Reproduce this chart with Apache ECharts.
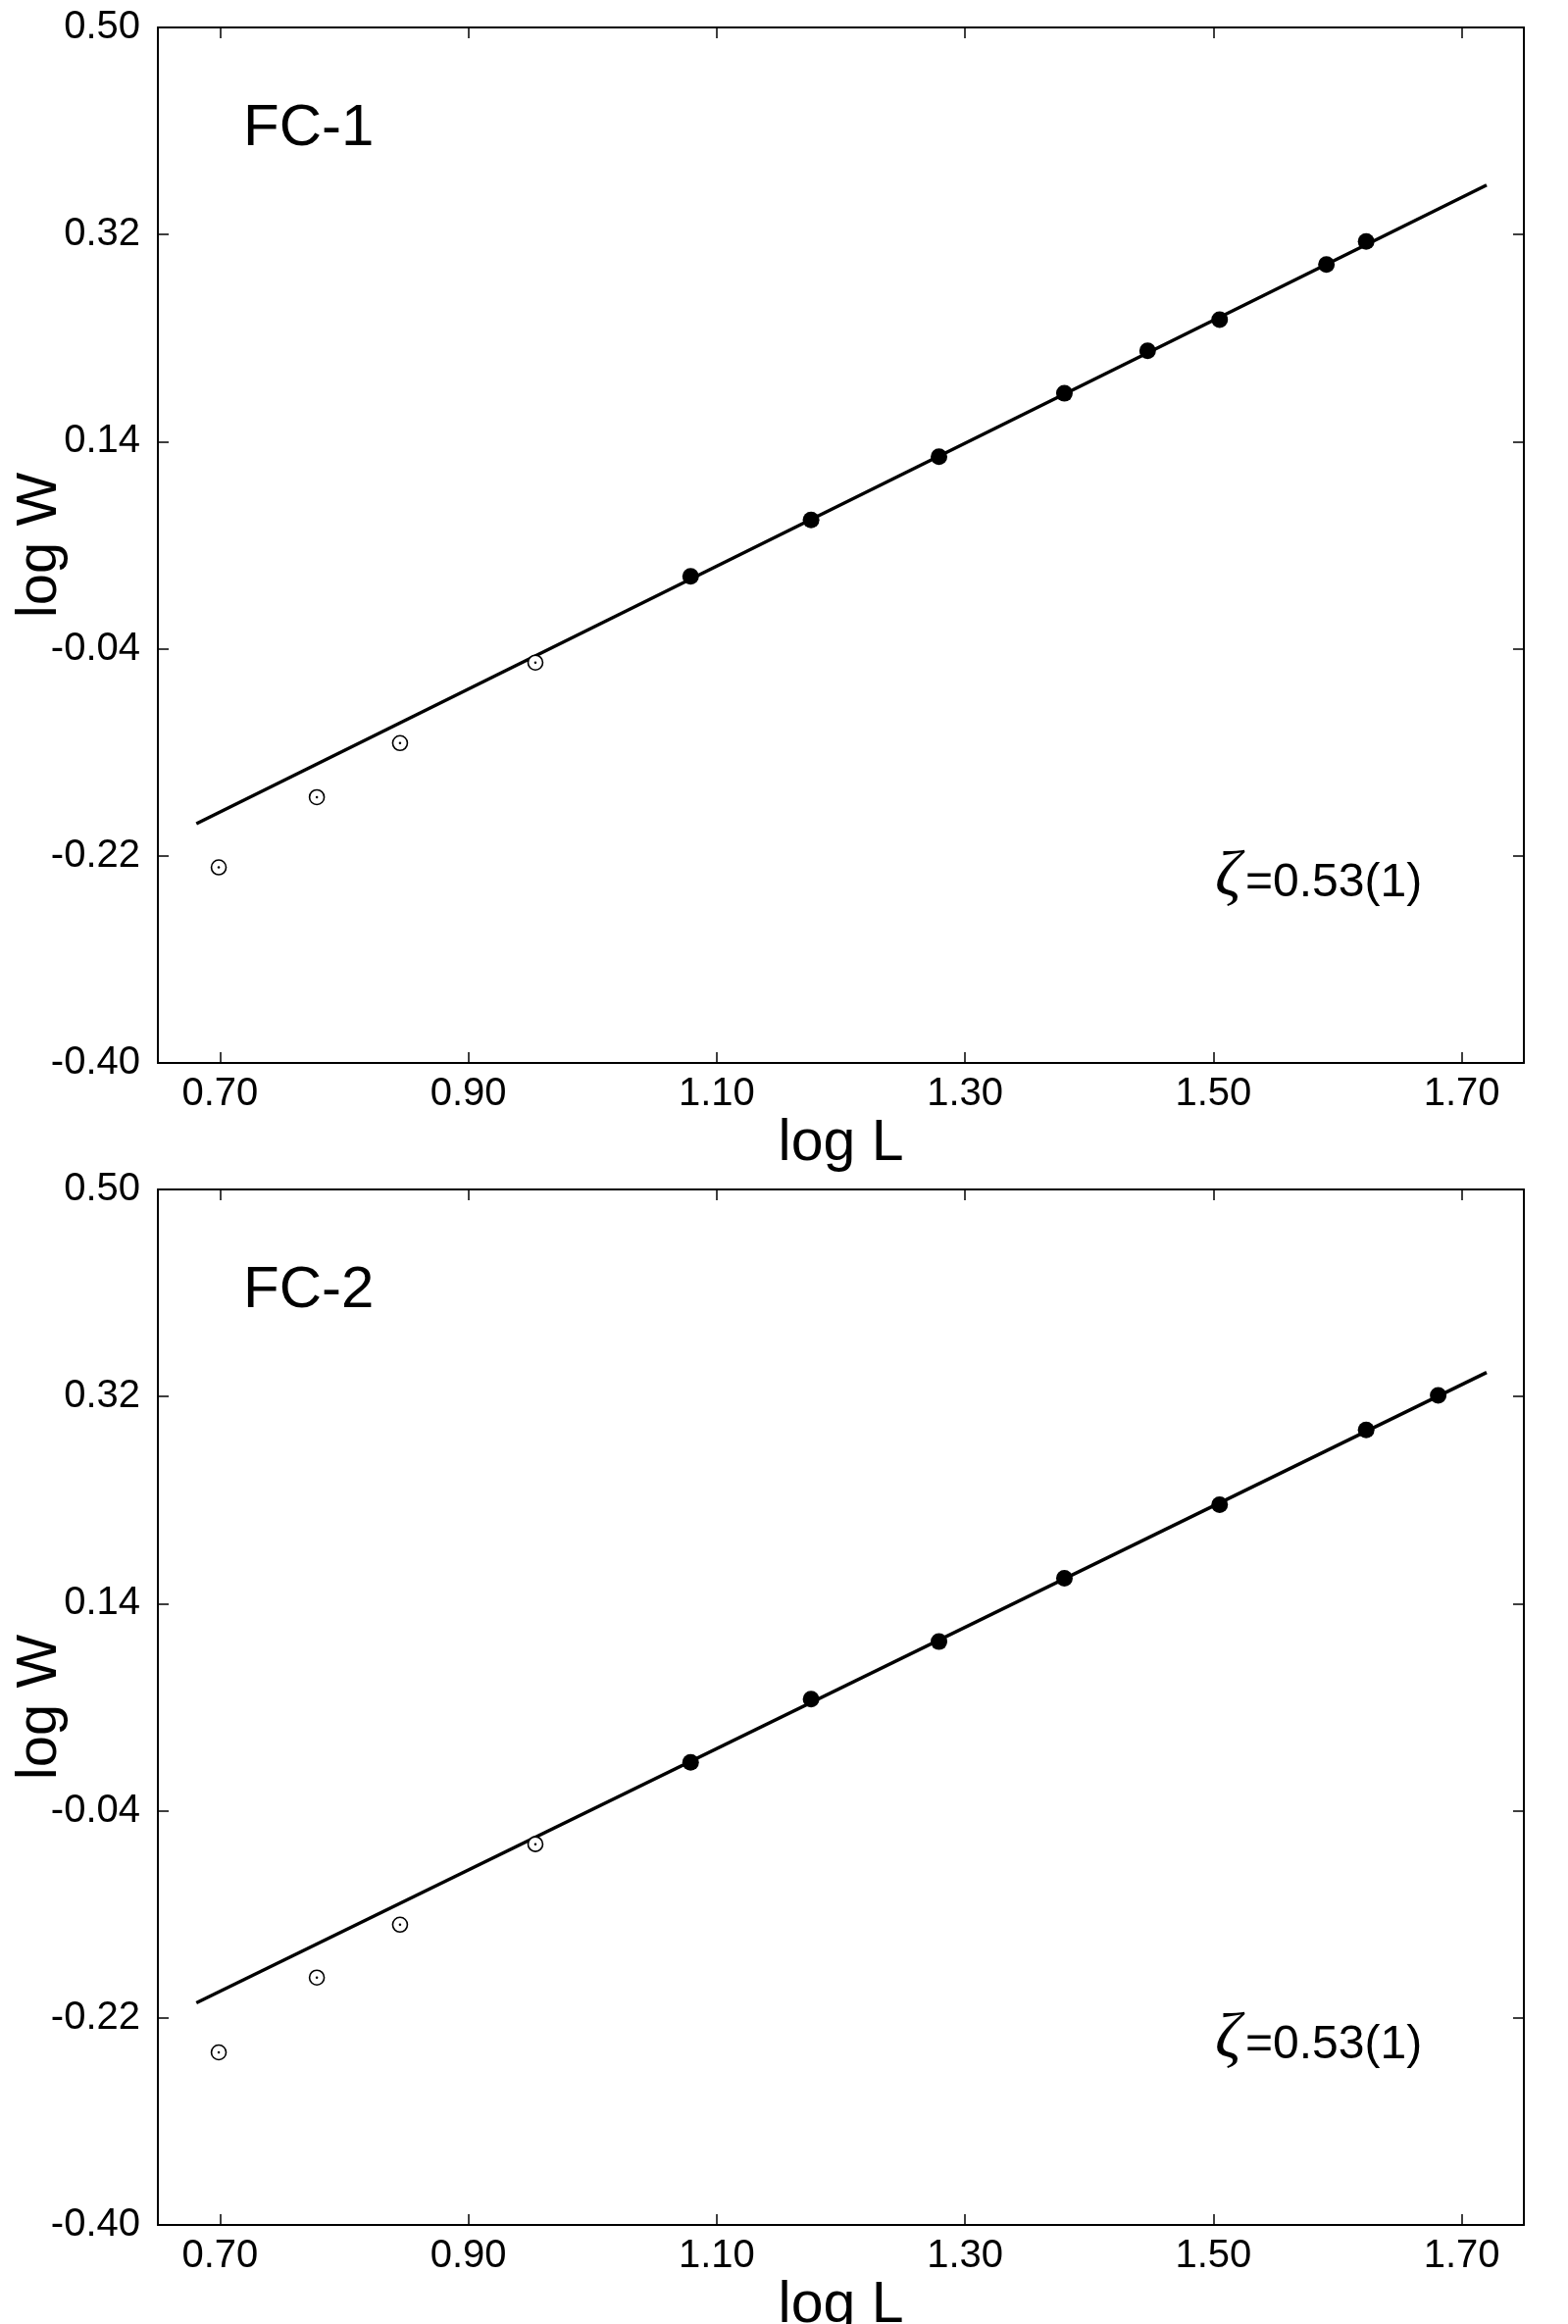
<!DOCTYPE html>
<html>
<head>
<meta charset="utf-8">
<title>log W vs log L</title>
<script src="https://cdn.jsdelivr.net/npm/echarts@6/dist/echarts.min.js"></script>
<style>
	html, body { margin: 0; padding: 0; background: #fff; }
	#main { width: 1599px; height: 2370px; }
</style>
</head>
<body>
<div id="main"></div>
<script>
// tick labels
var xTicks = [0.70, 0.90, 1.10, 1.30, 1.50, 1.70];
var yTicks = [-0.40, -0.22, -0.04, 0.14, 0.32, 0.50];

// open circles (small L), same L for both panels
var openLogL = [0.699, 0.778, 0.845, 0.954];

// FC-1
var fc1OpenLogW = [-0.230, -0.169, -0.122, -0.052];
var fc1FilledLogL = [1.079, 1.176, 1.279, 1.380, 1.447, 1.505, 1.591, 1.623];
var fc1FilledLogW = [0.023, 0.072, 0.127, 0.182, 0.219, 0.246, 0.294, 0.314];
var fc1FitLogL = [0.681, 1.720];
var fc1FitLogW = [-0.192, 0.363];

// FC-2
var fc2OpenLogW = [-0.250, -0.185, -0.139, -0.069];
var fc2FilledLogL = [1.079, 1.176, 1.279, 1.380, 1.505, 1.623, 1.681];
var fc2FilledLogW = [0.002, 0.057, 0.107, 0.162, 0.226, 0.291, 0.321];
var fc2FitLogL = [0.681, 1.720];
var fc2FitLogW = [-0.207, 0.341];

var FONT = '"Liberation Sans", Arial, Helvetica, sans-serif';

function pairs(xs, ys) {
	var out = [];
	for (var i = 0; i < xs.length; i++) {
		out.push([xs[i], ys[i]]);
	}
	return out;
}

var grids = [
	{ left: 161, top: 28, width: 1393, height: 1056 },
	{ left: 161, top: 1213, width: 1393, height: 1056 }
];

var xAxes = [], yAxes = [], series = [];

for (var g = 0; g < 2; g++) {
	grids[g].show = false;
	grids[g].outerBoundsMode = 'none';
	grids[g].containLabel = false;

	// bottom and top x axes
	xAxes.push({
		type: 'value', gridIndex: g, position: 'bottom',
		min: 0.65, max: 1.75,
		name: 'log L', nameLocation: 'middle', nameGap: 30,
		nameTextStyle: { fontFamily: FONT, fontSize: 59, color: '#000' },
		axisLine: { show: true, onZero: false, lineStyle: { color: '#000', width: 2 } },
		axisTick: { show: true, inside: true, length: 11, customValues: xTicks,
			lineStyle: { color: '#000', width: 1.5 } },
		axisLabel: { show: true, customValues: xTicks, margin: 12,
			fontFamily: FONT, fontSize: 40, color: '#000',
			formatter: function (v) { return v.toFixed(2); } },
		splitLine: { show: false }
	});
	xAxes.push({
		type: 'value', gridIndex: g, position: 'top',
		min: 0.65, max: 1.75,
		axisLine: { show: true, onZero: false, lineStyle: { color: '#000', width: 2 } },
		axisTick: { show: true, inside: true, length: 11, customValues: xTicks,
			lineStyle: { color: '#000', width: 1.5 } },
		axisLabel: { show: false },
		splitLine: { show: false }
	});

	// left and right y axes
	yAxes.push({
		type: 'value', gridIndex: g, position: 'left',
		min: -0.40, max: 0.50,
		name: 'log W', nameLocation: 'middle', nameGap: 91, nameRotate: 90,
		nameMoveOverlap: false,
		nameTextStyle: { fontFamily: FONT, fontSize: 58, color: '#000' },
		axisLine: { show: true, onZero: false, lineStyle: { color: '#000', width: 2 } },
		axisTick: { show: true, inside: true, length: 11, customValues: yTicks,
			lineStyle: { color: '#000', width: 1.5 } },
		axisLabel: { show: true, customValues: yTicks, margin: 18,
			fontFamily: FONT, fontSize: 40, color: '#000',
			formatter: function (v) { return v.toFixed(2); } },
		splitLine: { show: false }
	});
	yAxes.push({
		type: 'value', gridIndex: g, position: 'right',
		min: -0.40, max: 0.50,
		axisLine: { show: true, onZero: false, lineStyle: { color: '#000', width: 2 } },
		axisTick: { show: true, inside: true, length: 11, customValues: yTicks,
			lineStyle: { color: '#000', width: 1.5 } },
		axisLabel: { show: false },
		splitLine: { show: false }
	});
}

var panels = [
	{ open: pairs(openLogL, fc1OpenLogW), filled: pairs(fc1FilledLogL, fc1FilledLogW),
		fit: pairs(fc1FitLogL, fc1FitLogW) },
	{ open: pairs(openLogL, fc2OpenLogW), filled: pairs(fc2FilledLogL, fc2FilledLogW),
		fit: pairs(fc2FitLogL, fc2FitLogW) }
];

for (var p = 0; p < panels.length; p++) {
	var xi = p * 2, yi = p * 2;
	series.push({
		type: 'line', xAxisIndex: xi, yAxisIndex: yi,
		data: panels[p].fit, symbol: 'none', silent: true, z: 2,
		lineStyle: { color: '#000', width: 3.5, opacity: 1 }
	});
	series.push({
		type: 'scatter', xAxisIndex: xi, yAxisIndex: yi,
		data: panels[p].open, symbol: 'circle', symbolSize: 15, z: 3,
		itemStyle: { color: '#fff', borderColor: '#000', borderWidth: 1.6, opacity: 1 }
	});
	// tiny centre dot of the open circles
	series.push({
		type: 'scatter', xAxisIndex: xi, yAxisIndex: yi,
		data: panels[p].open, symbol: 'circle', symbolSize: 2.5, z: 4,
		itemStyle: { color: '#000', opacity: 1 }
	});
	series.push({
		type: 'scatter', xAxisIndex: xi, yAxisIndex: yi,
		data: panels[p].filled, symbol: 'circle', symbolSize: 17, z: 4,
		itemStyle: { color: '#000', opacity: 1 }
	});
}

// panel labels and exponent annotation
var graphics = [];
var panelNames = ['FC-1', 'FC-2'];
for (var k = 0; k < 2; k++) {
	var dy = grids[k].top - grids[0].top;
	graphics.push({
		type: 'text', left: 248, top: 101 + dy,
		style: { text: panelNames[k], font: '60px ' + FONT, fill: '#000' }
	});
	graphics.push({
		type: 'text', x: 1239, y: 896 + dy,
		style: { text: 'ζ', font: 'italic 66px "Liberation Serif", "DejaVu Serif", serif',
			fill: '#000', verticalAlign: 'middle', align: 'left' }
	});
	graphics.push({
		type: 'text', x: 1270, y: 901 + dy,
		style: { text: '=0.53(1)', font: '48px ' + FONT,
			fill: '#000', verticalAlign: 'middle', align: 'left' }
	});
}

var chart = echarts.init(document.getElementById('main'), null, { renderer: 'canvas' });
chart.setOption({
	animation: false,
	backgroundColor: '#fff',
	grid: grids,
	xAxis: xAxes,
	yAxis: yAxes,
	series: series,
	graphic: graphics
});
</script>
</body>
</html>
